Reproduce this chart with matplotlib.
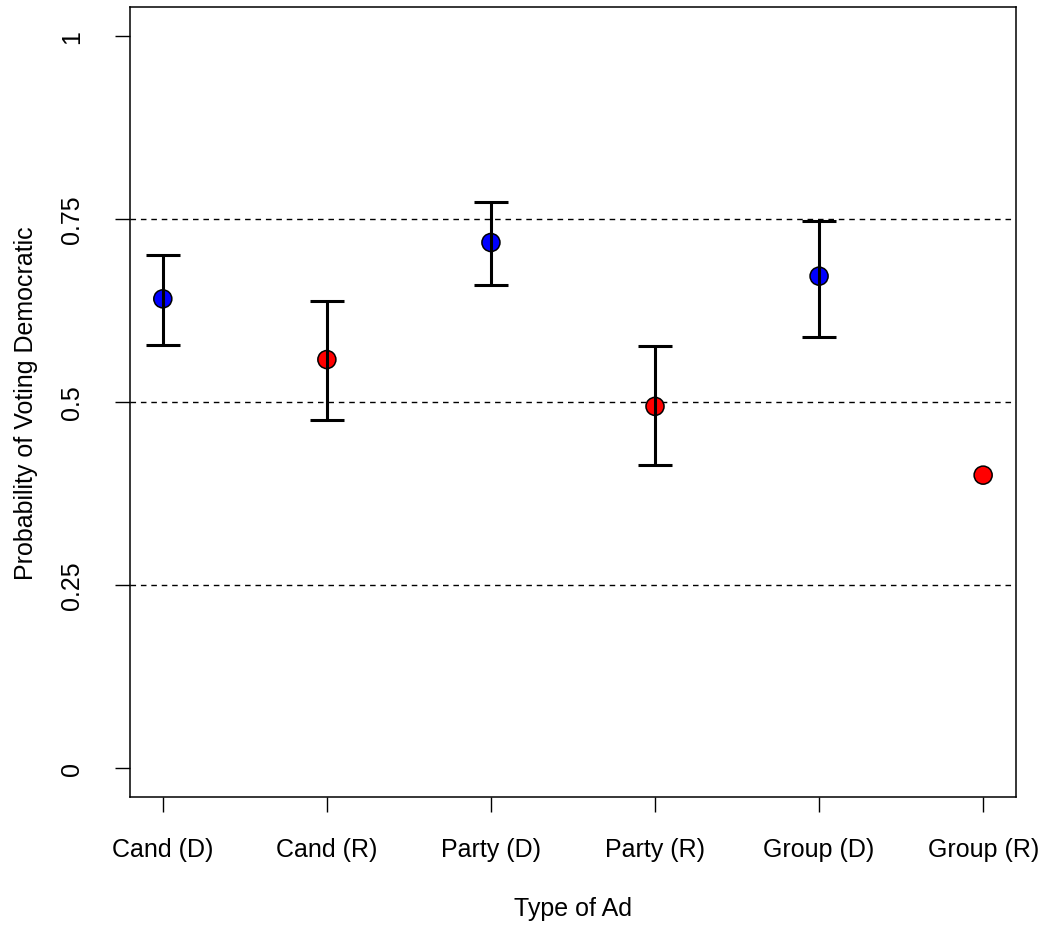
import numpy as np
import matplotlib
matplotlib.use('Agg')
import matplotlib.pyplot as plt

# estimated probability of a Democratic vote by ad sponsor, with 95% intervals
ad_types = ['Cand (D)', 'Cand (R)', 'Party (D)', 'Party (R)', 'Group (D)', 'Group (R)']
prob = [0.641, 0.558, 0.718, 0.494, 0.672, 0.400]
ci_low = [0.578, 0.475, 0.660, 0.414, 0.589, np.nan]
ci_high = [0.701, 0.638, 0.773, 0.576, 0.747, np.nan]
point_cols = ['#0000FF', '#FF0000', '#0000FF', '#FF0000', '#0000FF', '#FF0000']
ref_lines = [0.25, 0.5, 0.75]
yticks = [0, 0.25, 0.5, 0.75, 1]
ytick_labels = ['0', '0.25', '0.5', '0.75', '1']

plt.rc('font', family=['Liberation Sans', 'DejaVu Sans'])
lsize = 18

fig = plt.figure(figsize=(10.45, 9.28), dpi=100)
ax = fig.add_axes([0.1244, 0.1401, 0.8478, 0.8513])

x = np.arange(1, len(ad_types) + 1)
for yv in ref_lines:
  ax.axhline(yv, color='black', lw=1.0, ls=(0, (4, 3.5)), zorder=1)

ax.scatter(x, prob, s=13**2, c=point_cols, edgecolors='black', linewidths=1.1, zorder=2)

lo = np.array(prob) - np.array(ci_low)
hi = np.array(ci_high) - np.array(prob)
ax.errorbar(x, prob, yerr=[lo, hi], fmt='none', ecolor='black', elinewidth=2.2,
            capsize=11.9, capthick=2.2, zorder=3)

ax.set_xlim(0.8, 6.2)
ax.set_ylim(-0.04, 1.04)
ax.set_xticks(x)
ax.set_xticklabels(ad_types)
ax.set_yticks(yticks)
ax.set_yticklabels(ytick_labels, rotation=90, va='center')
ax.tick_params(axis='both', direction='out', length=10.8, width=1.0, labelsize=lsize)
ax.tick_params(axis='x', pad=18)
ax.tick_params(axis='y', pad=22)
for sp in ax.spines.values():
  sp.set_linewidth(1.1)

ax.set_xlabel('Type of Ad', fontsize=lsize, labelpad=25)
ax.set_ylabel('Probability of Voting Democratic', fontsize=lsize, labelpad=16)

fig.savefig('out.png', dpi=100)
